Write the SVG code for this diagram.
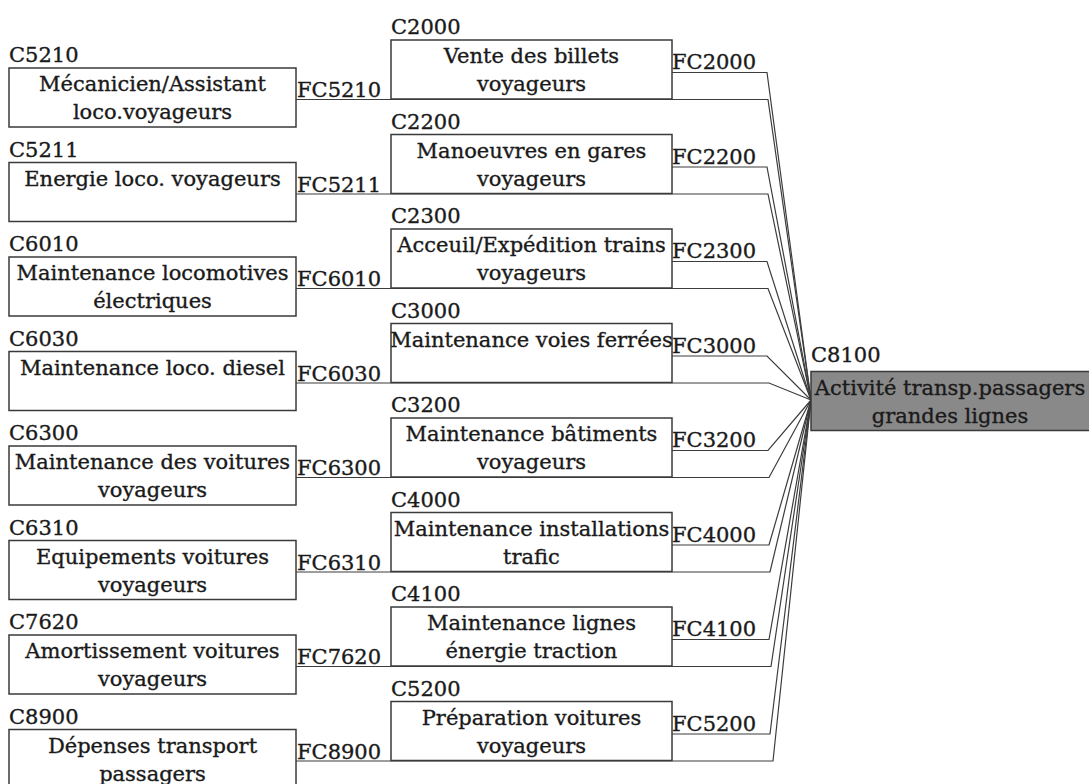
<svg xmlns="http://www.w3.org/2000/svg" width="1089" height="784" viewBox="0 0 1089 784">
<style>
text{font-family:"DejaVu Serif","Liberation Serif",serif;font-size:21px;fill:#1a1a1a;stroke:#1a1a1a;stroke-width:0.35}
.c{text-anchor:middle}
.box{fill:#fff;stroke:#3a3a3a;stroke-width:1.5}
.tgt{fill:#898989;stroke:#3a3a3a;stroke-width:1.5}
#connectors polyline{fill:none;stroke:#3c3c3c;stroke-width:1.2}
</style>
<rect width="1089" height="784" fill="#fff"/>
<g id="connectors">
<polyline points="296,99.5 768,99.5 811,400"/>
<polyline points="296,194 768,194 811,400"/>
<polyline points="296,288.5 768,288.5 811,400"/>
<polyline points="296,383 769,383 811,400"/>
<polyline points="296,477.5 769,477.5 811,400"/>
<polyline points="296,572 770,572 811,400"/>
<polyline points="296,666.5 771,666.5 811,400"/>
<polyline points="296,761 773,761 811,400"/>
<polyline points="672,72.5 767,72.5 811,400"/>
<polyline points="672,167 767,167 811,400"/>
<polyline points="672,261.5 767,261.5 811,400"/>
<polyline points="672,356 767,356 811,400"/>
<polyline points="672,450.5 768,450.5 811,400"/>
<polyline points="672,545 769,545 811,400"/>
<polyline points="672,639.5 769,639.5 811,400"/>
<polyline points="672,734 770,734 811,400"/>
</g>
<g id="C5210"><text x="9" y="62">C5210</text><rect class="box" x="9" y="68" width="287" height="59"/><text class="c" x="152.5" y="91">Mécanicien/Assistant</text><text class="c" x="152.5" y="119">loco.voyageurs</text><text x="297" y="97">FC5210</text></g>
<g id="C5211"><text x="9" y="156.5">C5211</text><rect class="box" x="9" y="162.5" width="287" height="59"/><text class="c" x="152.5" y="185.5">Energie loco. voyageurs</text><text x="297" y="191.5">FC5211</text></g>
<g id="C6010"><text x="9" y="251">C6010</text><rect class="box" x="9" y="257" width="287" height="59"/><text class="c" x="152.5" y="280">Maintenance locomotives</text><text class="c" x="152.5" y="308">électriques</text><text x="297" y="286">FC6010</text></g>
<g id="C6030"><text x="9" y="345.5">C6030</text><rect class="box" x="9" y="351.5" width="287" height="59"/><text class="c" x="152.5" y="374.5">Maintenance loco. diesel</text><text x="297" y="380.5">FC6030</text></g>
<g id="C6300"><text x="9" y="440">C6300</text><rect class="box" x="9" y="446" width="287" height="59"/><text class="c" x="152.5" y="469">Maintenance des voitures</text><text class="c" x="152.5" y="497">voyageurs</text><text x="297" y="475">FC6300</text></g>
<g id="C6310"><text x="9" y="534.5">C6310</text><rect class="box" x="9" y="540.5" width="287" height="59"/><text class="c" x="152.5" y="563.5">Equipements voitures</text><text class="c" x="152.5" y="591.5">voyageurs</text><text x="297" y="569.5">FC6310</text></g>
<g id="C7620"><text x="9" y="629">C7620</text><rect class="box" x="9" y="635" width="287" height="59"/><text class="c" x="152.5" y="658">Amortissement voitures</text><text class="c" x="152.5" y="686">voyageurs</text><text x="297" y="664">FC7620</text></g>
<g id="C8900"><text x="9" y="723.5">C8900</text><rect class="box" x="9" y="729.5" width="287" height="59"/><text class="c" x="152.5" y="752.5">Dépenses transport</text><text class="c" x="152.5" y="780.5">passagers</text><text x="297" y="758.5">FC8900</text></g>
<g id="C2000"><text x="391" y="34">C2000</text><rect class="box" x="391" y="40" width="281" height="59"/><text class="c" x="531.5" y="63">Vente des billets</text><text class="c" x="531.5" y="91">voyageurs</text><text x="672" y="69">FC2000</text></g>
<g id="C2200"><text x="391" y="128.5">C2200</text><rect class="box" x="391" y="134.5" width="281" height="59"/><text class="c" x="531.5" y="157.5">Manoeuvres en gares</text><text class="c" x="531.5" y="185.5">voyageurs</text><text x="672" y="163.5">FC2200</text></g>
<g id="C2300"><text x="391" y="223">C2300</text><rect class="box" x="391" y="229" width="281" height="59"/><text class="c" x="531.5" y="252">Acceuil/Expédition trains</text><text class="c" x="531.5" y="280">voyageurs</text><text x="672" y="258">FC2300</text></g>
<g id="C3000"><text x="391" y="317.5">C3000</text><rect class="box" x="391" y="323.5" width="281" height="59"/><text class="c" x="531.5" y="346.5">Maintenance voies ferrées</text><text x="672" y="352.5">FC3000</text></g>
<g id="C3200"><text x="391" y="412">C3200</text><rect class="box" x="391" y="418" width="281" height="59"/><text class="c" x="531.5" y="441">Maintenance bâtiments</text><text class="c" x="531.5" y="469">voyageurs</text><text x="672" y="447">FC3200</text></g>
<g id="C4000"><text x="391" y="506.5">C4000</text><rect class="box" x="391" y="512.5" width="281" height="59"/><text class="c" x="531.5" y="535.5">Maintenance installations</text><text class="c" x="531.5" y="563.5">trafic</text><text x="672" y="541.5">FC4000</text></g>
<g id="C4100"><text x="391" y="601">C4100</text><rect class="box" x="391" y="607" width="281" height="59"/><text class="c" x="531.5" y="630">Maintenance lignes</text><text class="c" x="531.5" y="658">énergie traction</text><text x="672" y="636">FC4100</text></g>
<g id="C5200"><text x="391" y="695.5">C5200</text><rect class="box" x="391" y="701.5" width="281" height="59"/><text class="c" x="531.5" y="724.5">Préparation voitures</text><text class="c" x="531.5" y="752.5">voyageurs</text><text x="672" y="730.5">FC5200</text></g>
<g id="C8100"><text x="811" y="362">C8100</text><rect class="tgt" x="811" y="371.5" width="282" height="59"/><text class="c" x="950" y="395">Activité transp.passagers</text><text class="c" x="950" y="423">grandes lignes</text></g>
</svg>
